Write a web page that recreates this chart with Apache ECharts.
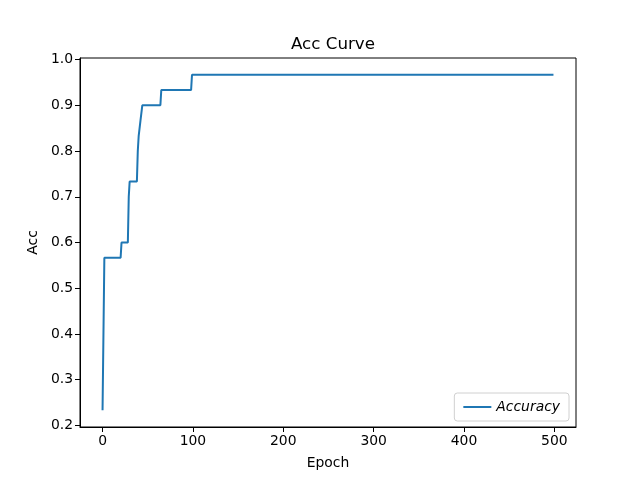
<!DOCTYPE html>
<html>
<head>
<meta charset="utf-8">
<script src="https://cdn.jsdelivr.net/npm/echarts@6/dist/echarts.min.js"></script>
<style>html,body{margin:0;padding:0;background:#fff}#c{width:640px;height:480px}</style>
</head>
<body>
<div id="c"></div>
<script>
// Accuracy breakpoints (epoch, accuracy)
const epochs = [0, 1, 2, 20, 21, 28, 29, 30, 38, 39, 40, 41, 42, 43, 44, 64, 65, 98, 99, 499];
const accuracy = [0.2333, 0.2333, 0.5667, 0.5667, 0.6, 0.6, 0.7, 0.7333, 0.7333, 0.8, 0.8333, 0.8333, 0.8667, 0.8667, 0.9, 0.9, 0.9333, 0.9333, 0.9667, 0.9667];
const xTicks = [0, 100, 200, 300, 400, 500];
const yTicks = [0.2, 0.3, 0.4, 0.5, 0.6, 0.7, 0.8, 0.9, 1.0];

const font = 'DejaVu Sans';
const chart = echarts.init(document.getElementById('c'));
chart.setOption({
  animation: false,
  backgroundColor: '#fff',
  title: {
    text: 'Acc Curve', left: 328, top: 31, textAlign: 'center',
    textStyle: {fontFamily: font, fontSize: 16.7, fontWeight: 'normal', color: '#000'}
  },
  grid: {left: 80, right: 64, top: 58, bottom: 53, show: true, borderColor: '#000', borderWidth: 1, backgroundColor: 'transparent'},
  legend: {
    right: 71, bottom: 59, orient: 'horizontal',
    data: [{name: 'Accuracy', icon: 'rect'}],
    itemWidth: 28, itemHeight: 2, itemGap: 8,
    padding: [7, 9, 7, 9],
    borderColor: '#d0d0d0', borderWidth: 1, borderRadius: 3, backgroundColor: 'rgba(255,255,255,0.8)',
    textStyle: {fontFamily: font, fontSize: 13.9, fontStyle: 'italic', color: '#000'}
  },
  xAxis: {
    type: 'value', min: -24.95, max: 523.95,
    name: 'Epoch', nameLocation: 'middle', nameGap: 29,
    nameTextStyle: {fontFamily: font, fontSize: 13.9, color: '#000'},
    axisLine: {show: true, onZero: false, lineStyle: {color: '#000', width: 1}},
    axisTick: {show: true, inside: false, length: 5, customValues: xTicks, lineStyle: {color: '#000'}},
    axisLabel: {customValues: xTicks, fontFamily: font, fontSize: 13.9, color: '#000', margin: 7},
    splitLine: {show: false}
  },
  yAxis: {
    type: 'value', min: 0.1967, max: 1.0033,
    name: 'Acc', nameLocation: 'middle', nameGap: 38, nameRotate: 90,
    nameTextStyle: {fontFamily: font, fontSize: 13.9, color: '#000'},
    axisLine: {show: true, onZero: false, lineStyle: {color: '#000', width: 1}},
    axisTick: {show: true, inside: false, length: 5, customValues: yTicks, lineStyle: {color: '#000'}},
    axisLabel: {customValues: yTicks, fontFamily: font, fontSize: 13.9, color: '#000', margin: 7,
      formatter: v => v.toFixed(1)},
    splitLine: {show: false}
  },
  series: [{
    name: 'Accuracy', type: 'line', showSymbol: false, symbol: 'none',
    data: epochs.map((e, i) => [e, accuracy[i]]),
    lineStyle: {color: '#1f77b4', width: 2}, itemStyle: {color: '#1f77b4'}
  }]
});
</script>
</body>
</html>
